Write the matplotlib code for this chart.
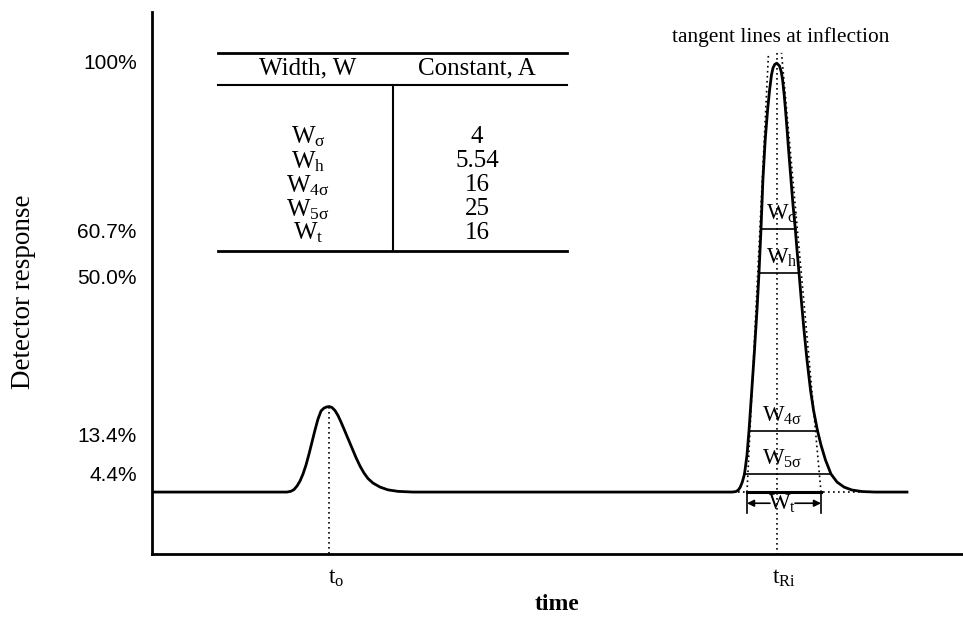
import matplotlib.pyplot as plt
from matplotlib.transforms import ScaledTranslation

plt.rcParams['mathtext.fontset'] = 'custom'
plt.rcParams['mathtext.rm'] = 'Liberation Serif'
plt.rcParams['mathtext.it'] = 'Liberation Serif:italic'
plt.rcParams['mathtext.bf'] = 'Liberation Serif:bold'

# chromatogram trace (time units, % detector response)
trace_t = [0, 128, 135, 139, 142, 145, 148, 151, 154, 157, 160, 163, 166, 169, 172, 175, 177.3,
           180, 183, 186, 189, 192, 196, 200, 204, 208, 212, 216, 221, 228, 236, 246, 261,
           580, 584, 586.3, 588.3, 590.3, 592.5, 595, 597, 599.8, 602.5, 605, 607, 609,
           610.9, 613.2, 615.6, 617.6, 619.5, 621, 622.8, 624.7,
           627.5, 629.3, 630.6, 632.2, 633.5, 635.1, 636.6, 639, 641, 643.3, 645, 647,
           649.3, 652, 655, 658.5, 661.5, 665.5, 669, 673.5, 679, 685, 692, 700, 710, 723, 755]
trace_y = [0, 0, 0, 0.19, 0.58, 1.40, 2.56, 4.19, 6.28, 8.84, 11.63, 14.42, 16.98, 18.84, 19.53, 19.81, 19.88,
           19.65, 18.95, 17.79, 16.28, 14.65, 12.44, 10.23, 8.02, 6.05, 4.42, 3.14, 2.09, 1.16, 0.51, 0.16, 0,
           0, 0.12, 0.47, 1.16, 2.33, 4.19, 8.60, 14.26, 23.72, 33.02, 42.33, 51.00, 61.16,
           72.56, 81.86, 88.84, 93.49, 96.98, 98.60, 99.42, 99.70,
           99.07, 97.67, 95.81, 92.33, 88.84, 84.19, 79.53, 72.56, 66.74, 61.16, 56.28, 51.00,
           44.65, 37.67, 30.70, 23.72, 19.07, 14.26, 10.93, 7.44, 4.19, 2.33, 1.16, 0.47, 0.12, 0, 0]

t0 = 177
t_r = 625

# peak widths at the marked heights
width_names = ['W$_\\mathrm{σ}$', 'W$_\\mathrm{h}$', 'W$_\\mathrm{4σ}$', 'W$_\\mathrm{5σ}$']
width_level = [61.2, 51.0, 14.3, 4.2]
width_left = [609, 607, 597, 592]
width_right = [643.5, 647, 666, 679]
wt_left, wt_right = 595, 669

# tangent lines at inflection points
tan_left_t = [595, 616.5]
tan_right_t = [669, 629.5]
tan_y = [0, 102.1]

# axis labels
ytick_pos = [100, 60.7, 50.0, 13.4, 4.4]
ytick_lab = ['100%', '60.7%', '50.0%', '13.4%', '4.4%']

# table
table_w = ['W$_\\mathrm{σ}$', 'W$_\\mathrm{h}$', 'W$_\\mathrm{4σ}$', 'W$_\\mathrm{5σ}$', 'W$_\\mathrm{t}$']
table_a = ['4', '5.54', '16', '25', '16']

fig = plt.figure(figsize=(9.63, 6.21), dpi=100)
ax = fig.add_axes([152 / 963, 67 / 621, 811 / 963, 542 / 621])
ax.set_xlim(0, 811)
ax.set_ylim(-14.4, 111.6)

ax.spines['top'].set_visible(False)
ax.spines['right'].set_visible(False)
ax.spines['left'].set_linewidth(2)
ax.spines['bottom'].set_linewidth(2)

dot = dict(color='black', lw=1.2, ls=(0, (1, 2)))

# dotted guides
ax.plot([t0, t0], [19.8, -14.4], **dot)
ax.plot([t_r, t_r], [102.1, -14.4], **dot)
ax.plot(tan_left_t, tan_y, **dot)
ax.plot(tan_right_t, tan_y, **dot)
ax.plot([586, 723], [0, 0], **dot)

# trace
ax.plot(trace_t, trace_y, color='black', lw=2, solid_joinstyle='round')

# width lines
for name, lev, l, r in zip(width_names, width_level, width_left, width_right):
    ax.plot([l, r], [lev, lev], color='black', lw=1.2)
    ax.text(630, lev + 0.9, name, ha='center', va='bottom', fontsize=16.5,
            family='Liberation Serif')

# W_t
ax.plot([wt_left, wt_right], [0, 0], color='black', lw=2.2)
ax.plot([wt_left, wt_left], [-0.5, -4.9], color='black', lw=1.2)
ax.plot([wt_right, wt_right], [-0.5, -4.9], color='black', lw=1.2)
arr = dict(arrowstyle='-|>', color='black', lw=1.2, mutation_scale=10, shrinkA=0, shrinkB=0)
ax.annotate('', xy=(wt_left, -2.6), xytext=(618, -2.6), arrowprops=arr)
ax.annotate('', xy=(wt_right, -2.6), xytext=(643, -2.6), arrowprops=arr)
ax.text(630, -2.8, 'W$_\\mathrm{t}$', ha='center', va='center', fontsize=16.5,
        family='Liberation Serif')

ax.text(629, 105.8, 'tangent lines at inflection', ha='center', va='center',
        fontsize=15.4, family='Liberation Serif')

# ticks
ax.set_yticks(ytick_pos)
ax.set_yticklabels(ytick_lab, family='Liberation Sans', fontsize=15)
ax.tick_params(axis='y', length=0, pad=11)
ax.set_xticks([t0, t_r])
ax.set_xticklabels(['t$_\\mathrm{o}$', 't$_\\mathrm{Ri}$'], family='Liberation Serif', fontsize=17)
ax.tick_params(axis='x', length=0, pad=10)
shift = ScaledTranslation(7 / 100, 0, fig.dpi_scale_trans)
for lab in ax.get_xticklabels():
    lab.set_transform(lab.get_transform() + shift)

fig.text(23 / 963, 1 - 292 / 621, 'Detector response', rotation=90, ha='center',
         va='center', fontsize=19.5, family='Liberation Serif')
fig.text(557 / 963, 1 - 604 / 621, 'time', ha='center', va='center',
         fontsize=17, family='Liberation Serif', weight='bold')

# table
ax.plot([66, 415], [102.1, 102.1], color='black', lw=2)
ax.plot([66, 415], [94.7, 94.7], color='black', lw=1.5)
ax.plot([66, 415], [56.0, 56.0], color='black', lw=2)
ax.plot([241, 241], [94.7, 56.0], color='black', lw=1.5)
ax.text(156, 98.4, 'Width, W', ha='center', va='center', fontsize=18, family='Liberation Serif')
ax.text(325, 98.4, 'Constant, A', ha='center', va='center', fontsize=18, family='Liberation Serif')
row_y = [82.6, 76.9, 71.3, 65.7, 60.2]
for ry, w, a in zip(row_y, table_w, table_a):
    ax.text(156, ry, w, ha='center', va='center', fontsize=18, family='Liberation Serif')
    ax.text(325, ry, a, ha='center', va='center', fontsize=18, family='Liberation Serif')

plt.savefig('out.png', dpi=100)
